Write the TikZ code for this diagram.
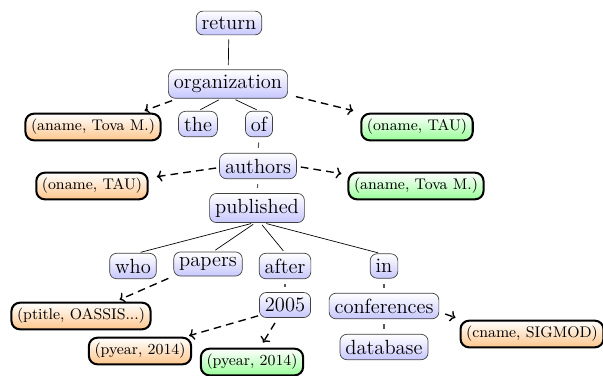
\documentclass[tikz,border=0pt]{standalone}
\usetikzlibrary{arrows.meta}
\begin{document}
\begin{tikzpicture}[x=0.585pt,y=-0.585pt,
  word/.style={draw=black!75,rounded corners=4pt,top color=white,bottom color=blue!22,font=\large,inner sep=3.2pt},
  orn/.style={draw=black,very thick,rounded corners=5pt,top color=white,bottom color=orange!45,font=\small,inner sep=3.3pt},
  grn/.style={draw=black,very thick,rounded corners=5pt,top color=white,bottom color=green!40,font=\small,inner sep=3.3pt},
  edge/.style={draw=black,thin,shorten <=1.5pt,shorten >=1.5pt},
  tick/.style={draw=black!65,line width=0.6pt,shorten <=3pt,shorten >=3pt},
  ann/.style={draw=black,thick,dash pattern=on 4.5pt off 3pt,-{To[length=3pt,width=6.5pt]}}]
\useasboundingbox (0,0) rectangle (603,375);
% words
\node[word] (return) at (229,23) {return};
\node[word] (org) at (228,84) {organization};
\node[word] (the) at (198,124) {the};
\node[word] (of) at (259,124) {of};
\node[word] (authors) at (258,166) {authors};
\node[word] (pub) at (257,208) {published};
\node[word] (who) at (133,266) {who};
\node[word] (papers) at (208,264) {papers};
\node[word] (after) at (285,266) {after};
\node[word] (in) at (384,266) {in};
\node[word] (y2005) at (285,305) {2005};
\node[word] (conf) at (384,306) {conferences};
\node[word] (db) at (384,347) {database};
% annotations
\node[orn] (a1) at (93,127) {(aname, Tova M.)};
\node[grn] (a2) at (417,127) {(oname, TAU)};
\node[orn] (a3) at (92,186) {(oname, TAU)};
\node[grn] (a4) at (416,186) {(aname, Tova M.)};
\node[orn] (a5) at (81,316) {(ptitle, OASSIS...)};
\node[orn] (a6) at (140,351) {(pyear, 2014)};
\node[grn] (a7) at (252,362) {(pyear, 2014)};
\node[orn] (a8) at (532,334) {(cname, SIGMOD)};
% tree edges
\draw[edge,shorten <=2.5pt,shorten >=2.5pt] (return) -- (org);
\draw[edge] ([xshift=-4pt]org.south) -- (the.north);
\draw[edge] ([xshift=3pt]org.south) -- (of.north);
\draw[tick] (of) -- (authors);
\draw[tick] (authors) -- (pub);
\draw[edge] ([xshift=-2pt]pub.south) -- ([xshift=3pt]who.north);
\draw[edge] ([xshift=-1pt]pub.south) -- ([xshift=3pt]papers.north);
\draw[edge] ([xshift=2pt]pub.south) -- (after.north);
\draw[edge] ([xshift=4pt]pub.south) -- ([xshift=-2pt]in.north);
\draw[tick] (after) -- (y2005);
\draw[tick] (in) -- (conf);
\draw[tick] (conf) -- (db);
% annotation arrows
\draw[ann] ([shift={(4,2)}]org.south west) -- ([shift={(-17,-2)}]a1.north east);
\draw[ann] ([shift={(8,-2)}]org.south east) -- ([shift={(-7,-2)}]a2.north west);
\draw[ann] ([shift={(-3,2)}]authors.west) -- ([shift={(8,5)}]a3.north east);
\draw[ann] ([shift={(4,1)}]authors.east) -- ([shift={(-6,2)}]a4.north west);
\draw[ann] ([shift={(-5,2)}]papers.south west) -- ([shift={(-32,-2)}]a5.north east);
\draw[ann] ([shift={(-1,-2)}]y2005.south west) -- ([shift={(-3,-1)}]a6.north east);
\draw[ann] ([shift={(-10,5)}]y2005.south) -- ([shift={(11,-5)}]a7.north);
\draw[ann] ([shift={(6,8)}]conf.east) -- ([shift={(-4,-2)}]a8.north west);
\end{tikzpicture}
\end{document}
